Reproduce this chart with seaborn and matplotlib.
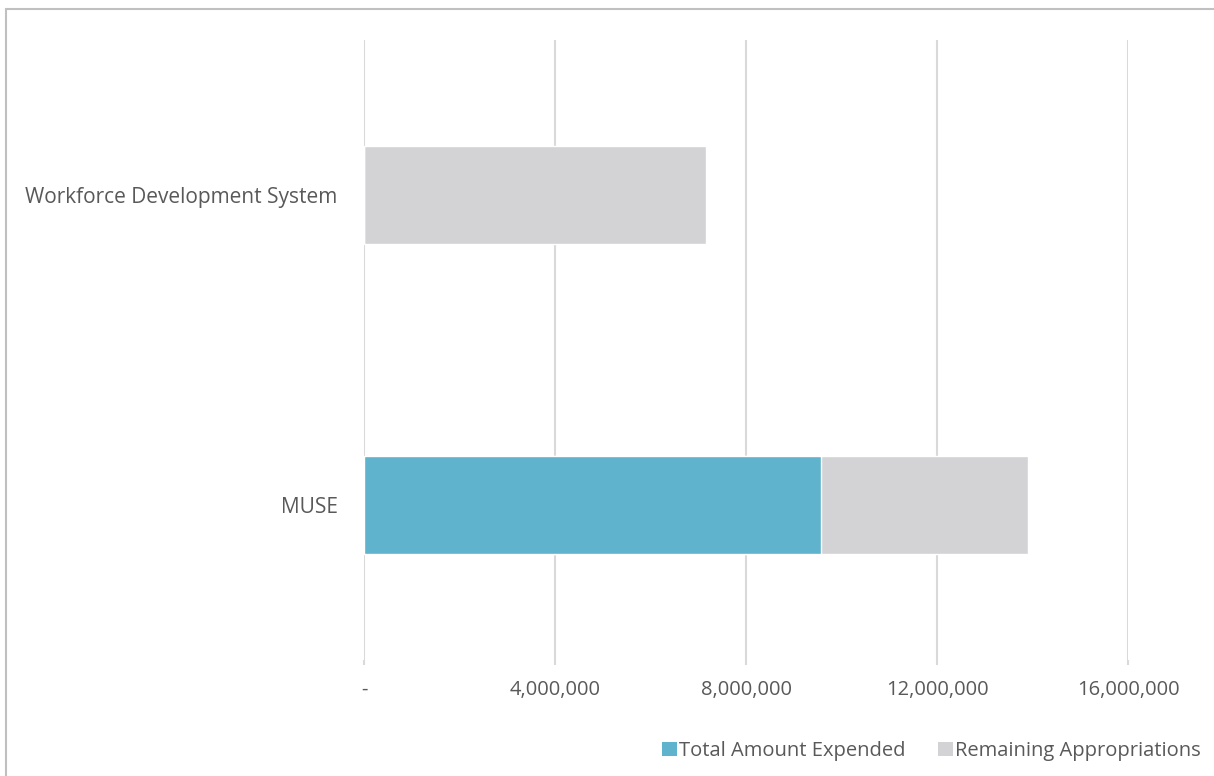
import matplotlib
matplotlib.use("Agg")
import matplotlib.pyplot as plt
import seaborn as sns
import pandas as pd
from matplotlib.patches import Patch
from matplotlib.lines import Line2D
from matplotlib.ticker import FuncFormatter

categories = ["Workforce Development System", "MUSE"]
expended = [0, 9570000]
remaining = [7160000, 4330000]
x_ticks = [0, 4000000, 8000000, 12000000, 16000000]
series_names = ["Total Amount Expended", "Remaining Appropriations"]

sns.set_theme(style="white")
plt.rcParams['font.family'] = ['Open Sans', 'DejaVu Sans']

BLUE = "#5fb3cc"
GRAY = "#d3d3d5"
TXT = "#595959"
GRID = "#d9d9d9"

df = pd.DataFrame({"cat": categories, "exp": expended,
                   "total": [e + r for e, r in zip(expended, remaining)]})

fig = plt.figure(figsize=(12.14, 7.76), dpi=100)
ax = fig.add_axes([364/1214, 1-660/776, (1128-364)/1214, (660-40)/776])

sns.barplot(data=df, y="cat", x="total", color=GRAY, width=0.313, ax=ax,
            saturation=1, orient="h", order=categories)
sns.barplot(data=df, y="cat", x="exp", color=BLUE, width=0.313, ax=ax,
            saturation=1, orient="h", order=categories)

ax.set_xlim(0, 16000000)
ax.set_ylim(1.5, -0.5)
ax.set_xticks(x_ticks)
ax.xaxis.set_major_formatter(FuncFormatter(lambda v, p: "-" if v == 0 else f"{int(v):,}"))
ax.grid(axis="x", color=GRID, linewidth=1.5)
ax.set_axisbelow(True)
for s in ax.spines.values():
    s.set_visible(False)
ax.set_xlabel("")
ax.set_ylabel("")
ax.tick_params(axis="x", colors=GRID, labelcolor=TXT, labelsize=14.5, length=3.6,
               width=1.5, direction="out", pad=10.5, bottom=True)
ax.tick_params(axis="y", colors=TXT, labelsize=15, length=0, pad=19)
for t in ax.get_xticklabels() + ax.get_yticklabels():
    t.set_color(TXT)

handles = [Patch(facecolor=BLUE, edgecolor="none", label=series_names[0]),
           Patch(facecolor=GRAY, edgecolor="none", label=series_names[1])]
leg = fig.legend(handles=handles, loc="center", bbox_to_anchor=(931.5/1214, 1-751/776),
                 ncol=2, frameon=False, fontsize=14.5, handlelength=0.75, handleheight=0.75,
                 handletextpad=0.1, columnspacing=1.6, labelcolor=TXT,
                 borderpad=0, borderaxespad=0)

# outer chart border (left and top visible)
fig.add_artist(Line2D([6/1214, 6/1214], [0, 1-9/776], transform=fig.transFigure,
                      color="#c0c0c0", linewidth=1.5))
fig.add_artist(Line2D([6/1214, 1], [1-9/776, 1-9/776], transform=fig.transFigure,
                      color="#c0c0c0", linewidth=1.5))

fig.savefig("out.png", dpi=100, facecolor="white")
